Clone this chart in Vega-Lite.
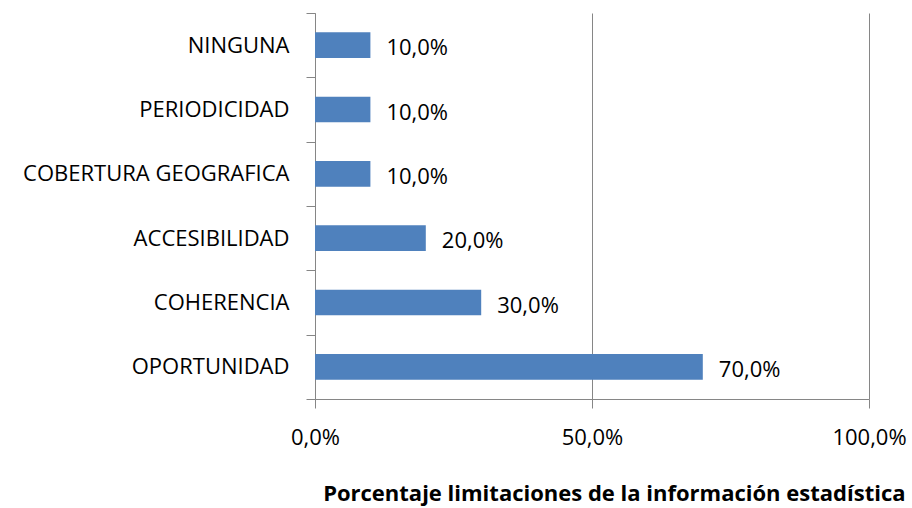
{
  "$schema": "https://vega.github.io/schema/vega-lite/v6.json",
  "width": 554,
  "height": 386,
  "autosize": {"type": "none"},
  "padding": {"left": 315, "top": 13, "right": 43, "bottom": 109},
  "background": "white",
  "config": {
    "view": {"stroke": null},
    "locale": {"number": {"decimal": ",", "thousands": ".", "grouping": [3], "currency": ["", " €"]}},
    "font": "Open Sans"
  },
  "data": {"values": [
    {"categoria": "NINGUNA", "valor": 0.10},
    {"categoria": "PERIODICIDAD", "valor": 0.10},
    {"categoria": "COBERTURA  GEOGRAFICA", "valor": 0.10},
    {"categoria": "ACCESIBILIDAD", "valor": 0.20},
    {"categoria": "COHERENCIA", "valor": 0.30},
    {"categoria": "OPORTUNIDAD", "valor": 0.70}
  ]},
  "encoding": {
    "y": {
      "field": "categoria", "type": "nominal",
      "sort": ["NINGUNA", "PERIODICIDAD", "COBERTURA  GEOGRAFICA", "ACCESIBILIDAD", "COHERENCIA", "OPORTUNIDAD"],
      "scale": {"paddingInner": 0, "paddingOuter": 0},
      "axis": {
        "title": null, "domainColor": "#868686", "tickColor": "#868686", "tickSize": 9,
        "tickBand": "extent", "labelFontSize": 22, "labelColor": "#000000", "labelPadding": 17,
        "labelFont": "Open Sans", "labelLimit": 400, "grid": false
      }
    },
    "x": {
      "field": "valor", "type": "quantitative",
      "scale": {"domain": [0, 1], "nice": false},
      "axis": {
        "values": [0, 0.5, 1], "format": ".1%", "grid": true, "gridColor": "#868686",
        "domainColor": "#868686", "tickColor": "#868686", "tickSize": 9, "labelFlush": false,
        "labelFontSize": 22, "labelColor": "#000000", "labelPadding": 19, "labelFont": "Open Sans",
        "title": "Porcentaje limitaciones de la información estadística",
        "titleFontSize": 22, "titleFontWeight": "bold", "titleColor": "#000000", "titleFont": "Open Sans",
        "titleAlign": "right", "titleAnchor": "end", "titleX": 590, "titleY": 101, "titleBaseline": "alphabetic"
      }
    }
  },
  "layer": [
    {"mark": {"type": "bar", "color": "#4F81BD", "height": {"band": 0.4}}},
    {
      "mark": {"type": "text", "align": "left", "dx": 16, "dy": 3, "fontSize": 22, "color": "#000000", "font": "Open Sans"},
      "encoding": {"text": {"field": "valor", "type": "quantitative", "format": ".1%"}}
    }
  ]
}
